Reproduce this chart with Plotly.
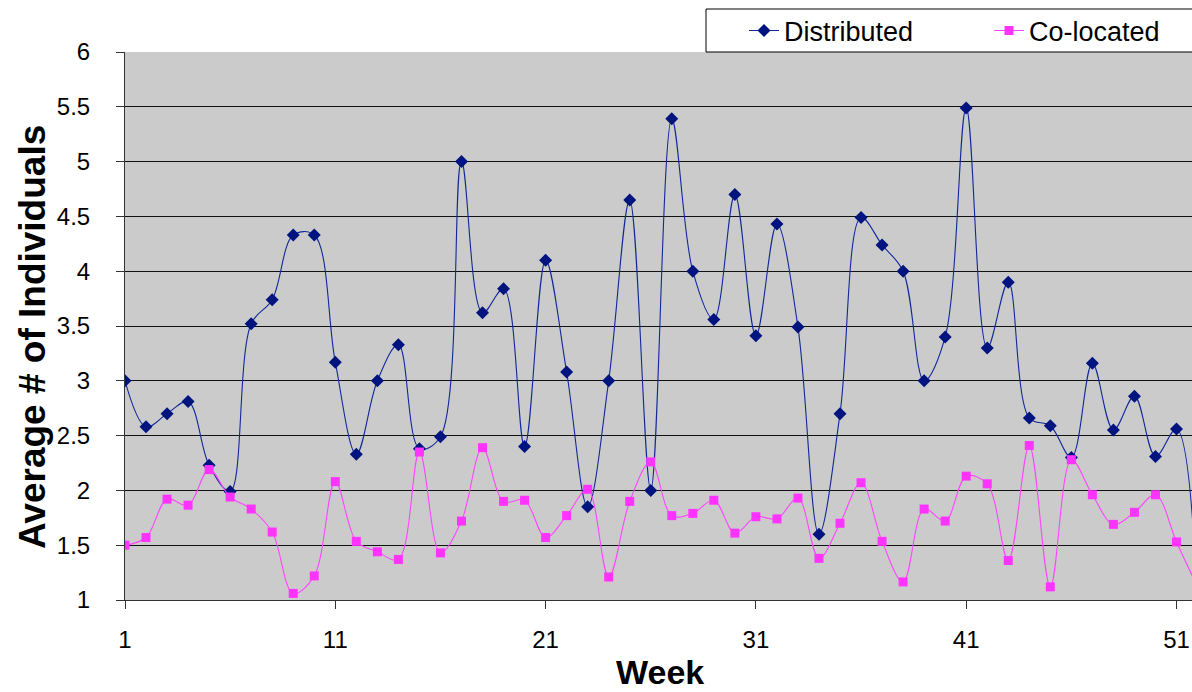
import plotly.graph_objects as go

weeks = list(range(1, 53))
distributed = [3.0, 2.58, 2.70, 2.81, 2.23, 1.99, 3.52, 3.74, 4.33, 4.33,
               3.17, 2.33, 3.0, 3.33, 2.38, 2.49, 5.0, 3.62, 3.84, 2.40,
               4.10, 3.08, 1.85, 3.0, 4.65, 2.0, 5.39, 4.0, 3.56, 4.70,
               3.41, 4.43, 3.49, 1.60, 2.70, 4.49, 4.24, 4.0, 3.0, 3.40,
               5.49, 3.30, 3.90, 2.66, 2.59, 2.30, 3.16, 2.55, 2.86, 2.31,
               2.56, 0.95]
colocated = [1.5, 1.57, 1.92, 1.865, 2.19, 1.94, 1.83, 1.62, 1.06, 1.22,
             2.08, 1.535, 1.44, 1.37, 2.35, 1.43, 1.72, 2.39, 1.90, 1.91,
             1.57, 1.77, 2.01, 1.21, 1.90, 2.26, 1.77, 1.79, 1.91, 1.61,
             1.76, 1.74, 1.93, 1.38, 1.70, 2.07, 1.535, 1.165, 1.83, 1.72,
             2.13, 2.06, 1.36, 2.41, 1.12, 2.28, 1.96, 1.69, 1.80, 1.96,
             1.53, 1.12]
x_ticks = [1, 11, 21, 31, 41, 51]
y_ticks = [1, 1.5, 2, 2.5, 3, 3.5, 4, 4.5, 5, 5.5, 6]
y_tick_text = ["1", "1.5", "2", "2.5", "3", "3.5", "4", "4.5", "5", "5.5", "6"]

W, H = 1192, 692
L, T = 125, 52
B = H - 600
R = 0
pw, ph = W - L - R, H - T - B

def px_x(p):
    return (p - L) / pw

def px_y(p):
    return (H - B - p) / ph

FONT = "Liberation Sans, Arial, sans-serif"

fig = go.Figure()
fig.add_trace(go.Scatter(
    x=weeks, y=distributed, name="Distributed", mode="lines+markers",
    line=dict(color="#10289a", width=1.1, shape="spline", smoothing=1),
    marker=dict(symbol="diamond", size=10, color="#001480"),
))
fig.add_trace(go.Scatter(
    x=weeks, y=colocated, name="Co-located", mode="lines+markers",
    line=dict(color="#ff44ff", width=1.1, shape="spline", smoothing=1),
    marker=dict(symbol="square", size=9, color="#ff33ff"),
))

fig.update_layout(
    width=W, height=H,
    margin=dict(l=L, r=R, t=T, b=B, autoexpand=False),
    paper_bgcolor="white",
    plot_bgcolor="#cbcbcb",
    font=dict(family=FONT, size=24, color="black"),
    showlegend=True,
    legend=dict(
        orientation="h", x=px_x(744), xanchor="left",
        y=px_y(31), yanchor="middle",
        bgcolor="rgba(0,0,0,0)", borderwidth=0,
        font=dict(size=27, family=FONT, color="black"),
        entrywidth=200, entrywidthmode="pixels",
        itemwidth=30,
    ),
    shapes=[dict(
        type="rect", xref="paper", yref="paper",
        x0=px_x(706), x1=1.02, y0=px_y(52), y1=px_y(9),
        line=dict(color="black", width=1), fillcolor="white", layer="above",
    )],
    annotations=[
        dict(text="Average # of Individuals", xref="paper", yref="paper",
             x=px_x(32), y=px_y(337), xanchor="center", yanchor="middle",
             textangle=-90, showarrow=False,
             font=dict(size=37, family=FONT, color="black", weight="bold")),
        dict(text="Week", xref="paper", yref="paper",
             x=px_x(660), y=px_y(672), xanchor="center", yanchor="middle",
             showarrow=False,
             font=dict(size=34, family=FONT, color="black", weight="bold")),
    ],
)

fig.update_xaxes(
    range=[1, 1 + pw / 21.03],
    tickvals=x_ticks, ticktext=[str(v) for v in x_ticks],
    ticks="outside", ticklen=8, tickcolor="#333333", tickwidth=1,
    showline=True, linecolor="#333333", linewidth=1,
    showgrid=False, zeroline=False,
    ticklabelstandoff=10,
    tickfont=dict(size=24, family=FONT, color="black"),
)
fig.update_yaxes(
    range=[1, 6],
    tickvals=y_ticks, ticktext=y_tick_text,
    ticks="outside", ticklen=8, tickcolor="#333333", tickwidth=1,
    showline=True, linecolor="#333333", linewidth=1,
    showgrid=True, gridcolor="#111111", gridwidth=1,
    zeroline=False,
    ticklabelstandoff=21,
    tickfont=dict(size=24, family=FONT, color="black"),
)

fig.write_html(
    "out.html",
    config={"displayModeBar": False},
    post_script="document.body.style.margin='0';document.body.style.overflow='hidden';",
)
